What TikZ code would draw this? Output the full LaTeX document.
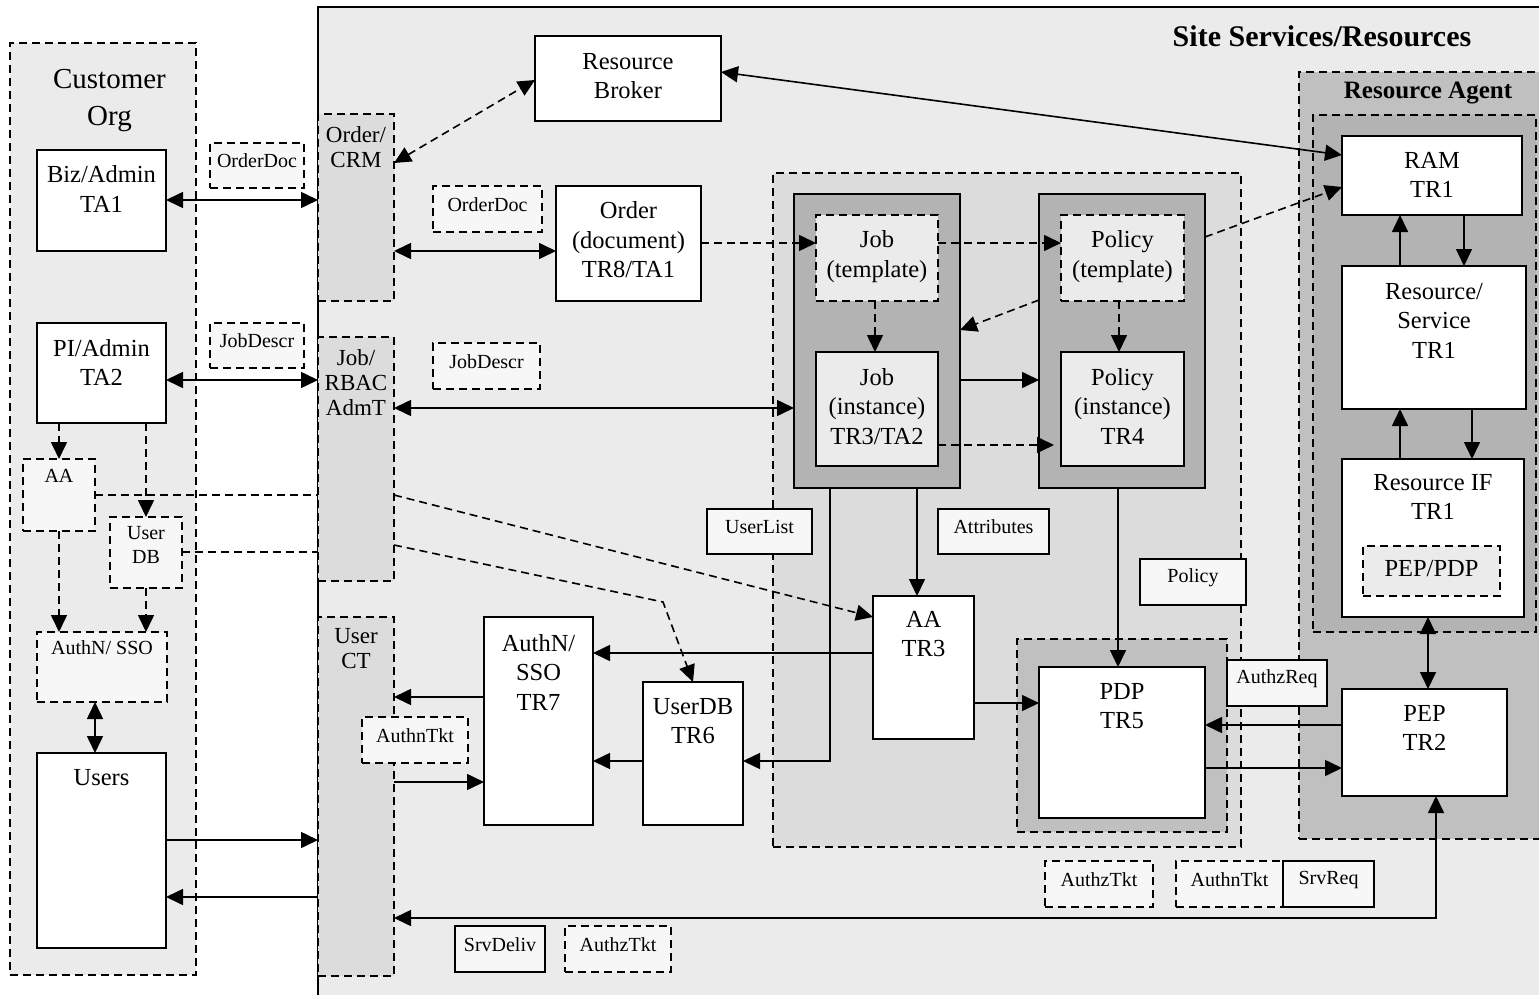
\documentclass[tikz,border=0pt]{standalone}
\usepackage{fontspec}
\setmainfont{Liberation Serif}
\usetikzlibrary{arrows.meta}
\definecolor{pale}{HTML}{EBEBEB}
\definecolor{mid}{HTML}{DCDCDC}
\definecolor{dark}{HTML}{B3B3B3}
\definecolor{agent}{HTML}{C0C0C0}
\definecolor{tagfill}{HTML}{F7F7F7}
\tikzset{
  every node/.style={inner sep=0pt, outer sep=0pt},
  solidbox/.style={draw, line width=1.6pt, fill=white},
  dashbox/.style={draw, line width=1.6pt, dash pattern=on 8pt off 5pt},
  big/.style={font=\fontsize{24.5}{29.5}\selectfont, align=center},
  col/.style={font=\fontsize{23}{25}\selectfont, align=center},
  small/.style={font=\fontsize{20}{24}\selectfont, align=center},
  conn/.style={line width=1.6pt},
  dconn/.style={line width=1.6pt, dash pattern=on 8pt off 5pt},
  >={Triangle[length=17pt,width=16pt]}
}
% box from (x1,y1) to (x2,y2) with text hung from its top edge
\newcommand\tbox[8]{%
  \node[#2, anchor=north west, minimum width={#5-#3}, minimum height={#6-#4}] (#1) at (#3,#4) {};
  \node[#7, anchor=north] (#1-t) at (#1.north) {#8};}
% box without text
\newcommand\plainbox[6]{%
  \node[#2, anchor=north west, minimum width={#5-#3}, minimum height={#6-#4}] (#1) at (#3,#4) {};}
% message tag with centred text
\newcommand\msgbox[7]{%
  \node[#2, anchor=north west, minimum width={#5-#3}, minimum height={#6-#4}] (#1) at (#3,#4) {};
  \node[small] (#1-t) at ([yshift=4.5pt]#1.center) {#7};}
\begin{document}
\begin{tikzpicture}[x=1pt,y=-1pt]
\useasboundingbox (0,0) rectangle (1539,995);
\fill[white] (0,0) rectangle (1539,995);

% ---------- customer organisation ----------
\plainbox{cust}{dashbox, fill=pale}{10}{43}{196}{975}
\node[font=\fontsize{29}{37}\selectfont, align=center, anchor=north] (cust-t)
  at ([xshift=6.5pt, yshift=-26pt]cust.north) {Customer\\Org};

% ---------- site services ----------
\plainbox{site}{fill=pale}{318}{7}{1560}{1010}
\draw[line width=1.6pt] (site.south west) -- (site.north west) -- (site.north east);
\node[font=\bfseries\fontsize{30}{30}\selectfont, anchor=base] (site-t) at (1322,47) {Site Services/Resources};

\plainbox{core}{dashbox, fill=mid}{773}{173}{1241}{847}
\plainbox{ra}{dashbox, fill=agent}{1299}{72}{1560}{839}
\node[font=\bfseries\fontsize{25}{25}\selectfont, anchor=base] (ra-t) at (1428,99) {Resource Agent};
\plainbox{rain}{dashbox, fill=dark}{1313}{115}{1536}{632}

% interface columns
\tbox{crm}{dashbox, fill=mid}{318}{114}{394}{301}{col, yshift=-12.5pt}{Order/\\CRM}
\tbox{rbac}{dashbox, fill=mid}{318}{337}{394}{581}{col, yshift=-12.5pt}{Job/\\RBAC\\AdmT}
\tbox{ct}{dashbox, fill=mid}{318}{617}{394}{976}{col, yshift=-11.5pt}{User\\CT}

% customer boxes
\tbox{biz}{solidbox}{37}{150}{166}{251}{big, yshift=-16pt}{Biz/Admin\\TA1}
\tbox{pi}{solidbox}{37}{323}{166}{423}{big, yshift=-16pt}{PI/Admin\\TA2}
\tbox{caa}{dashbox, fill=tagfill}{23}{459}{95}{531}{small, yshift=-10pt}{AA}
\tbox{cudb}{dashbox, fill=tagfill}{110}{517}{182}{588}{small, yshift=-9.5pt}{User\\DB}
\tbox{cauth}{dashbox, fill=tagfill}{37}{632}{167}{702}{small, yshift=-9pt}{AuthN/ SSO}
\tbox{users}{solidbox}{37}{753}{166}{948}{big, yshift=-16pt}{Users}

% site boxes
\tbox{rb}{solidbox}{535}{36}{721}{121}{big, yshift=-17pt}{Resource\\Broker}
\tbox{ord}{solidbox}{556}{186}{701}{301}{big, yshift=-16pt}{Order\\(document)\\TR8/TA1}
\plainbox{jobo}{draw, line width=1.6pt, fill=dark}{794}{194}{960}{488}
\plainbox{polo}{draw, line width=1.6pt, fill=dark}{1039}{194}{1205}{488}
\tbox{jobt}{dashbox, fill=pale}{816}{215}{938}{301}{big, yshift=-16pt}{Job\\(template)}
\tbox{jobi}{solidbox, fill=pale}{816}{352}{938}{466}{big, yshift=-16pt}{Job\\(instance)\\TR3/TA2}
\tbox{polt}{dashbox, fill=pale}{1061}{215}{1184}{301}{big, yshift=-16pt}{Policy\\(template)}
\tbox{poli}{solidbox, fill=pale}{1061}{352}{1184}{466}{big, yshift=-16pt}{Policy\\(instance)\\TR4}
\tbox{aa}{solidbox}{873}{596}{974}{739}{big, yshift=-15pt}{AA\\TR3}
\plainbox{pdpo}{dashbox, fill=agent}{1017}{639}{1227}{832}
\tbox{pdp}{solidbox}{1039}{667}{1205}{818}{big, yshift=-16pt}{PDP\\TR5}
\tbox{authn}{solidbox}{484}{617}{593}{825}{big, yshift=-17pt}{AuthN/\\SSO\\TR7}
\tbox{udb}{solidbox}{643}{682}{743}{825}{big, yshift=-16pt}{UserDB\\TR6}
\tbox{ram}{solidbox}{1342}{136}{1522}{215}{big, yshift=-16pt}{RAM\\TR1}
\tbox{rsvc}{solidbox}{1342}{266}{1526}{409}{big, yshift=-17pt}{Resource/\\Service\\TR1}
\tbox{rif}{solidbox}{1342}{459}{1524}{617}{big, yshift=-15pt}{Resource IF\\TR1}
\plainbox{pepdp}{dashbox, fill=pale}{1363}{546}{1500}{596}
\node[big] (pepdp-t) at ([yshift=2pt]pepdp.center) {PEP/PDP};
\tbox{pep}{solidbox}{1342}{689}{1507}{796}{big, yshift=-16pt}{PEP\\TR2}

% message tags
\msgbox{od1}{dashbox, fill=tagfill}{210}{143}{304}{188}{OrderDoc}
\msgbox{jd1}{dashbox, fill=tagfill}{210}{323}{304}{368}{JobDescr}
\msgbox{od2}{dashbox, fill=tagfill}{433}{186}{542}{232}{OrderDoc}
\msgbox{jd2}{dashbox, fill=tagfill}{433}{343}{540}{389}{JobDescr}
\msgbox{ul}{solidbox, fill=tagfill}{707}{509}{812}{554}{UserList}
\msgbox{attr}{solidbox, fill=tagfill}{938}{509}{1049}{554}{Attributes}
\msgbox{pol}{solidbox, fill=tagfill}{1140}{559}{1246}{605}{Policy}
\msgbox{azr}{solidbox, fill=tagfill}{1227}{660}{1327}{706}{AuthzReq}
\msgbox{ant1}{dashbox, fill=tagfill}{362}{717}{468}{763}{AuthnTkt}
\msgbox{azt1}{dashbox, fill=tagfill}{1045}{861}{1153}{907}{AuthzTkt}
\msgbox{ant2}{dashbox, fill=tagfill}{1176}{861}{1283}{907}{AuthnTkt}
\msgbox{sreq}{solidbox, fill=tagfill}{1283}{861}{1374}{907}{SrvReq}
\msgbox{sdel}{solidbox, fill=tagfill}{455}{926}{545}{972}{SrvDeliv}
\msgbox{azt2}{dashbox, fill=tagfill}{565}{926}{671}{972}{AuthzTkt}

% ---------- connectors: customer side ----------
\draw[conn, <->] (biz.east |- 0,200) -- (crm.west |- 0,200);
\draw[conn, <->] (pi.east |- 0,380) -- (rbac.west |- 0,380);
\draw[dconn, ->] (caa.north |- pi.south) -- (caa.north);
\draw[dconn, ->] (cudb.north |- pi.south) -- (cudb.north);
\draw[dconn, ->] (caa.south) -- (caa.south |- cauth.north);
\draw[dconn, ->] (cudb.south) -- (cudb.south |- cauth.north);
\draw[conn, <->] (cauth.south -| 95,0) -- (users.north -| 95,0);
\draw[conn, ->] (users.east |- 0,840) -- (ct.west |- 0,840);
\draw[conn, ->] (ct.west |- 0,897) -- (users.east |- 0,897);

% attribute and user data feeds
\draw[dconn] (caa.east |- 0,495) -- (rbac.west |- 0,495);
\draw[dconn, ->] (rbac.east |- 0,495) -- (aa.west |- 0,617);
\draw[dconn] (cudb.east |- 0,552) -- (rbac.west |- 0,552);
\coordinate (udbbend) at (663,602);
\draw[dconn, ->] (rbac.east |- 0,545) -- (udbbend) -- (udb.north);

% ---------- connectors: site side ----------
\draw[dconn, <->] (crm.east |- 0,163) -- (rb.west |- 0,80);
\draw[conn, <->] (rb.east |- 0,72) -- (ram.west |- 0,155);
\draw[conn, <->] (crm.east |- 0,251) -- (ord.west |- 0,251);
\draw[conn, <->] (rbac.east |- 0,408) -- (jobo.west |- 0,408);
\draw[dconn, ->] (ord.east |- 0,243) -- (jobt.west |- 0,243);
\draw[dconn, ->] (jobt.east |- 0,243) -- (polt.west |- 0,243);
\draw[dconn, ->] (jobt.south -| 875,0) -- (jobi.north -| 875,0);
\draw[dconn, ->] (polt.south -| 1119,0) -- (poli.north -| 1119,0);
\draw[dconn, ->] (polo.west |- 0,300) -- (jobo.east |- 0,330);
\draw[conn, ->] (jobo.east |- 0,380) -- (polo.west |- 0,380);
\draw[dconn, ->, shorten >=7pt] (jobi.east |- 0,445) -- (poli.west |- 0,445);
\draw[dconn, ->] (polo.east |- 0,237) -- (ram.west |- 0,187);

\draw[conn, ->] (jobo.south -| 917,0) -- (aa.north -| 917,0);
\coordinate (ulbend) at (830,761);
\draw[conn, ->] (jobo.south -| 830,0) -- (ulbend) -- (udb.east |- ulbend);
\draw[conn, ->] (polo.south -| 1118,0) -- (pdp.north -| 1118,0);
\draw[conn, ->] (aa.west |- 0,653) -- (authn.east |- 0,653);
\draw[conn, ->] (aa.east |- 0,703) -- (pdp.west |- 0,703);
\draw[conn, ->] (udb.west |- 0,761) -- (authn.east |- 0,761);
\draw[conn, ->] (authn.west |- 0,697) -- (ct.east |- 0,697);
\draw[conn, ->] (ct.east |- 0,782) -- (authn.west |- 0,782);
\draw[conn, ->] (pep.west |- 0,725) -- (pdp.east |- 0,725);
\draw[conn, ->] (pdp.east |- 0,768) -- (pep.west |- 0,768);

% resource agent internals
\draw[conn, ->] (rsvc.north -| 1400,0) -- (ram.south -| 1400,0);
\draw[conn, ->] (ram.south -| 1464,0) -- (rsvc.north -| 1464,0);
\draw[conn, ->] (rif.north -| 1400,0) -- (rsvc.south -| 1400,0);
\draw[conn, ->] (rsvc.south -| 1472,0) -- (rif.north -| 1472,0);
\draw[conn, <->] (rif.south -| 1428,0) -- (pep.north -| 1428,0);

% service request / delivery path
\coordinate (srvbend) at (1436,918);
\draw[conn, <->] (ct.east |- srvbend) -- (srvbend) -- (pep.south -| srvbend);
\end{tikzpicture}
\end{document}
